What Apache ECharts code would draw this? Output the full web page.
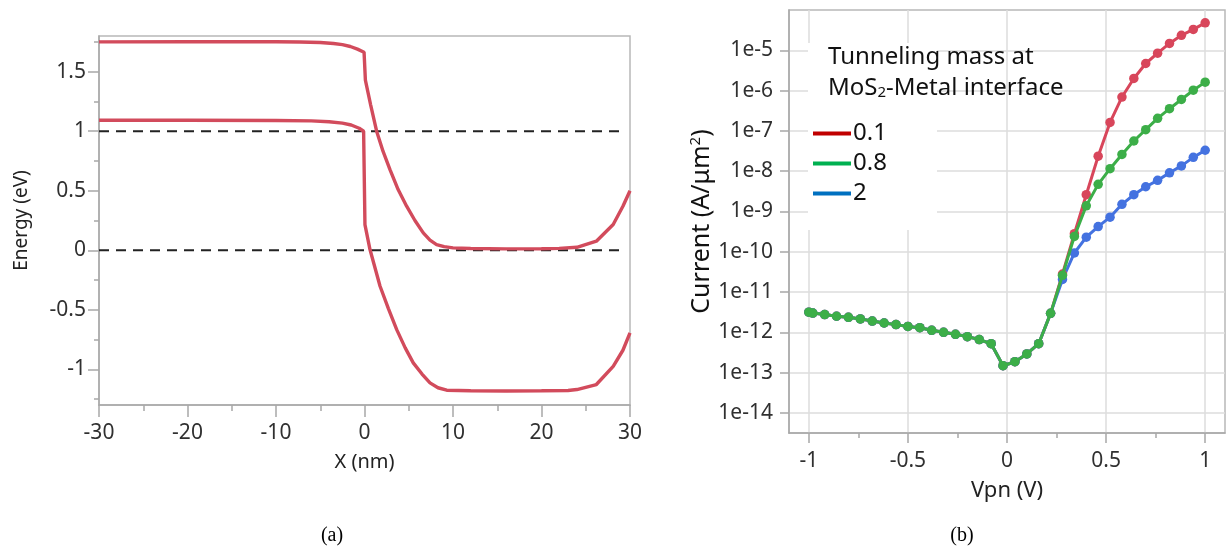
<!DOCTYPE html>
<html>
<head>
<meta charset="utf-8">
<script src="https://cdn.jsdelivr.net/npm/echarts@6/dist/echarts.min.js"></script>
<style>
html,body{margin:0;padding:0;background:#fff;}
#chart{width:1227px;height:546px;}
</style>
</head>
<body>
<div id="chart"></div>
<script>
// ---------- Panel (a): band diagram ----------
const cbX = [-30, -20, -10, -7.3, -5, -3.5, -2.5, -1.6, -0.8, -0.05, 0.1, 0.7, 1.37, 2.1, 2.88, 3.8, 4.76, 5.7, 6.64, 7.4, 8.14, 9, 10, 12, 16, 20, 22, 24, 26.2, 28.1, 29.2, 30];
const cbE = [1.751, 1.752, 1.752, 1.750, 1.745, 1.737, 1.727, 1.712, 1.690, 1.664, 1.430, 1.220, 1.000, 0.830, 0.678, 0.510, 0.370, 0.250, 0.146, 0.085, 0.048, 0.030, 0.020, 0.015, 0.012, 0.013, 0.016, 0.025, 0.076, 0.216, 0.370, 0.500];
const vbX = [-30, -20, -10, -6, -4, -2.5, -1.5, -0.6, -0.1, 0.05, 0.62, 1.75, 2.7, 3.64, 4.6, 5.51, 6.5, 7.4, 8.3, 9.29, 12, 16, 20, 23, 24, 26.2, 28.1, 29.2, 30];
const vbE = [1.092, 1.092, 1.090, 1.087, 1.080, 1.068, 1.052, 1.025, 1.000, 0.216, 0.006, -0.300, -0.490, -0.667, -0.820, -0.946, -1.040, -1.114, -1.155, -1.176, -1.180, -1.182, -1.180, -1.178, -1.170, -1.128, -0.975, -0.840, -0.694];
const refLevels = [1, 0];
const refXRange = [-30, 29.2];
const aXMajor = [-30, -20, -10, 0, 10, 20, 30];
const aXMinor = [-25, -15, -5, 5, 15, 25];
const aYMajor = [-1, -0.5, 0, 0.5, 1, 1.5];
const aYMinor = [-1.25, -0.75, -0.25, 0.25, 0.75, 1.25, 1.75];

// ---------- Panel (b): I-V curves ----------
const vpn = [-1, -0.98, -0.92, -0.86, -0.80, -0.74, -0.68, -0.62, -0.56, -0.50, -0.44, -0.38, -0.32, -0.26, -0.20, -0.14, -0.08, -0.02, 0.04, 0.10, 0.16, 0.22, 0.28, 0.34, 0.40, 0.46, 0.52, 0.58, 0.64, 0.70, 0.76, 0.82, 0.88, 0.94, 1.00];
const current01 = [3.16e-12, 3.0e-12, 2.75e-12, 2.5e-12, 2.35e-12, 2.15e-12, 1.9e-12, 1.7e-12, 1.55e-12, 1.4e-12, 1.3e-12, 1.12e-12, 1.0e-12, 8.9e-13, 7.8e-13, 6.6e-13, 5.2e-13, 1.48e-13, 1.86e-13, 2.9e-13, 5.2e-13, 2.95e-12, 2.8e-11, 2.8e-10, 2.6e-9, 2.35e-8, 1.62e-7, 6.9e-7, 2.0e-6, 4.7e-6, 8.5e-6, 1.48e-5, 2.35e-5, 3.3e-5, 4.8e-5];
const current08 = [3.16e-12, 3.0e-12, 2.75e-12, 2.5e-12, 2.35e-12, 2.15e-12, 1.9e-12, 1.7e-12, 1.55e-12, 1.4e-12, 1.3e-12, 1.12e-12, 1.0e-12, 8.9e-13, 7.8e-13, 6.6e-13, 5.2e-13, 1.48e-13, 1.86e-13, 2.9e-13, 5.2e-13, 2.95e-12, 2.6e-11, 2.4e-10, 1.38e-9, 4.7e-9, 1.15e-8, 2.6e-8, 5.6e-8, 1.07e-7, 2.05e-7, 3.55e-7, 6.0e-7, 1.02e-6, 1.62e-6];
const current2 = [3.16e-12, 3.0e-12, 2.75e-12, 2.5e-12, 2.35e-12, 2.15e-12, 1.9e-12, 1.7e-12, 1.55e-12, 1.4e-12, 1.3e-12, 1.12e-12, 1.0e-12, 8.9e-13, 7.8e-13, 6.6e-13, 5.2e-13, 1.48e-13, 1.86e-13, 2.9e-13, 5.2e-13, 2.95e-12, 2.05e-11, 9.3e-11, 2.3e-10, 4.2e-10, 7.2e-10, 1.5e-9, 2.6e-9, 4.1e-9, 5.9e-9, 9.1e-9, 1.35e-8, 2.2e-8, 3.3e-8];
const seriesNames = ['0.1', '0.8', '2'];
const bXMajor = [-1, -0.5, 0, 0.5, 1];
const bXMinor = [-0.75, -0.25, 0.25, 0.75];
const bYDecades = [-14, -13, -12, -11, -10, -9, -8, -7, -6, -5];
const legendTitle = ['Tunneling mass at', 'MoS{s|2}-Metal interface'];
const captions = ['(a)', '(b)'];

const FONT = 'Noto Sans';
const AX = '#a8a8a8';
const LBL = '#303030';
const bandColor = '#d24b5c';
const lineColors = ['#d8465b', '#3cae48', '#4472e0'];
const legendColors = ['#c00000', '#00b050', '#0070c0'];

const pairs = (xs, ys) => xs.map((x, i) => [x, ys[i]]);
const logPairs = (xs, ys) => xs.map((x, i) => [x, Math.log10(ys[i])]);

const chart = echarts.init(document.getElementById('chart'), null, {renderer: 'canvas'});

const line = {show: true, onZero: false, lineStyle: {color: AX, width: 1.5}};
const noLine = {show: false, onZero: false};

const option = {
  animation: false,
  backgroundColor: '#ffffff',
  grid: [
    {left: 99, top: 36, width: 531, height: 369, show: true, borderColor: '#b8b8b8', borderWidth: 1.5, backgroundColor: 'transparent'},
    {left: 789, top: 10, width: 436, height: 423, show: true, borderColor: '#b8b8b8', borderWidth: 1.5, backgroundColor: 'transparent'}
  ],
  xAxis: [
    {
      type: 'value', gridIndex: 0, position: 'bottom', min: -30, max: 30, axisLine: line, splitLine: {show: false},
      name: 'X (nm)', nameLocation: 'middle', nameGap: 47,
      nameTextStyle: {color: '#222', fontFamily: FONT, fontSize: 20},
      axisTick: {show: true, length: 12, customValues: aXMajor, lineStyle: {color: AX, width: 1.5}},
      axisLabel: {color: LBL, fontFamily: FONT, fontSize: 21, margin: 18, customValues: aXMajor}
    },
    {
      type: 'value', gridIndex: 0, position: 'bottom', min: -30, max: 30, axisLine: noLine, splitLine: {show: false},
      axisTick: {show: true, length: 6, customValues: aXMinor, lineStyle: {color: AX, width: 1.5}},
      axisLabel: {show: false, customValues: aXMinor}
    },
    {
      type: 'value', gridIndex: 1, position: 'bottom', min: -1.1, max: 1.1, axisLine: line,
      name: 'Vpn (V)', nameLocation: 'middle', nameGap: 47,
      nameTextStyle: {color: '#222', fontFamily: FONT, fontSize: 22},
      axisTick: {show: true, length: 10, customValues: bXMajor, lineStyle: {color: AX, width: 1.5}},
      axisLabel: {color: LBL, fontFamily: FONT, fontSize: 21, margin: 18, customValues: bXMajor},
      splitLine: {show: true, lineStyle: {color: '#dcdcdc', width: 1.5}}
    },
    {
      type: 'value', gridIndex: 1, position: 'bottom', min: -1.1, max: 1.1, axisLine: noLine, splitLine: {show: false},
      axisTick: {show: true, length: 5, customValues: bXMinor, lineStyle: {color: AX, width: 1.5}},
      axisLabel: {show: false, customValues: bXMinor}
    }
  ],
  yAxis: [
    {
      type: 'value', gridIndex: 0, position: 'left', min: -1.3, max: 1.8, axisLine: line, splitLine: {show: false},
      name: 'Energy (eV)', nameLocation: 'middle', nameGap: 68,
      nameTextStyle: {color: '#222', fontFamily: FONT, fontSize: 19},
      axisTick: {show: true, length: 11, customValues: aYMajor, lineStyle: {color: AX, width: 1.5}},
      axisLabel: {color: LBL, fontFamily: FONT, fontSize: 21, margin: 13, customValues: aYMajor}
    },
    {
      type: 'value', gridIndex: 0, position: 'left', min: -1.3, max: 1.8, axisLine: noLine, splitLine: {show: false},
      axisTick: {show: true, length: 5, customValues: aYMinor, lineStyle: {color: AX, width: 1.5}},
      axisLabel: {show: false, customValues: aYMinor}
    },
    {
      type: 'value', gridIndex: 1, position: 'left', min: -14.5, max: -4, axisLine: line,
      name: 'Current (A/μm{sup|2})', nameLocation: 'middle', nameGap: 69,
      nameTextStyle: {color: '#111', fontFamily: FONT, fontSize: 25,
        rich: {sup: {fontSize: 15, verticalAlign: 'top', fontFamily: FONT, color: '#111', padding: [0, 0, 12, 0]}}},
      axisTick: {show: true, length: 9, customValues: bYDecades, lineStyle: {color: AX, width: 1.5}},
      axisLabel: {color: LBL, fontFamily: FONT, fontSize: 21, margin: 16, customValues: bYDecades,
        formatter: v => '1e' + Math.round(v)},
      splitLine: {show: true, lineStyle: {color: '#dcdcdc', width: 1.5}}
    }
  ],
  legend: {
    orient: 'vertical', left: 808, top: 115, itemGap: 3,
    itemWidth: 38, itemHeight: 4, icon: 'rect',
    textStyle: {fontFamily: FONT, fontSize: 24, color: '#111', lineHeight: 27, padding: [0, 0, 0, -3]},
    data: seriesNames,
    z: 6
  },
  title: captions.map((c, i) => ({
    text: c, left: i === 0 ? 327 : 957, top: 521, textAlign: 'center',
    textStyle: {fontFamily: 'Liberation Serif', fontSize: 20, fontWeight: 'normal', color: '#000'}
  })),
  graphic: [
    {type: 'rect', shape: {x: 808, y: 43, width: 129, height: 187}, style: {fill: '#ffffff'}, z: 3, silent: true},
    {type: 'text', left: 828, top: 45, z: 7, style: {text: legendTitle[0], font: '24px "Noto Sans"', fill: '#111'}},
    {type: 'text', left: 828, top: 76, z: 7, style: {text: legendTitle[1], font: '24px "Noto Sans"', fill: '#111',
      rich: {s: {fontSize: 15, fontFamily: FONT, verticalAlign: 'bottom', fill: '#111', padding: [10, 0, 0, 0]}}}}
  ],
  series: [
    {type: 'line', name: 'CB', xAxisIndex: 0, yAxisIndex: 0, data: pairs(cbX, cbE), showSymbol: false, symbol: 'none',
      lineStyle: {color: bandColor, width: 3.4}, z: 3},
    {type: 'line', name: 'VB', xAxisIndex: 0, yAxisIndex: 0, data: pairs(vbX, vbE), showSymbol: false, symbol: 'none',
      lineStyle: {color: bandColor, width: 3.4}, z: 3},
    ...refLevels.map(lv => ({type: 'line', name: 'ref' + lv, xAxisIndex: 0, yAxisIndex: 0,
      data: [[refXRange[0], lv], [refXRange[1], lv]], symbol: 'none',
      lineStyle: {color: '#222', width: 1.8, type: [10, 7]}, z: 2})),
    {type: 'line', name: 'm0.1', xAxisIndex: 2, yAxisIndex: 2, data: logPairs(vpn, current01),
      symbol: 'circle', symbolSize: 9.5, itemStyle: {color: lineColors[0]}, lineStyle: {color: lineColors[0], width: 3}, z: 4},
    {type: 'line', name: 'm2', xAxisIndex: 2, yAxisIndex: 2, data: logPairs(vpn, current2),
      symbol: 'circle', symbolSize: 9.5, itemStyle: {color: lineColors[2]}, lineStyle: {color: lineColors[2], width: 3}, z: 4},
    {type: 'line', name: 'm0.8', xAxisIndex: 2, yAxisIndex: 2, data: logPairs(vpn, current08),
      symbol: 'circle', symbolSize: 9.5, itemStyle: {color: lineColors[1]}, lineStyle: {color: lineColors[1], width: 3}, z: 5},
    ...seriesNames.map((n, i) => ({type: 'line', name: n, xAxisIndex: 2, yAxisIndex: 2, data: [],
      itemStyle: {color: legendColors[i]}, lineStyle: {color: legendColors[i]}}))
  ]
};
chart.setOption(option);
</script>
</body>
</html>
